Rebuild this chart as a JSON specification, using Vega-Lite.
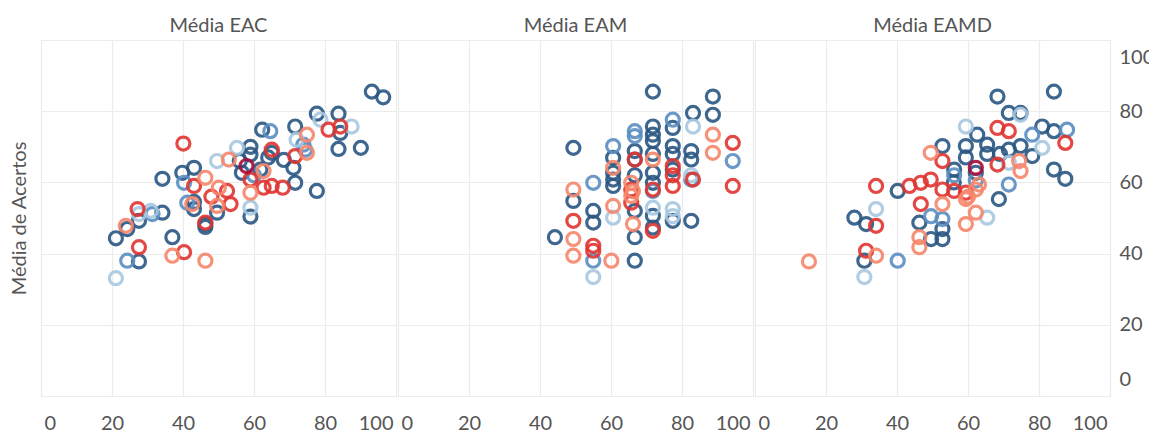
{
  "$schema": "https://vega.github.io/schema/vega-lite/v6.json",
  "padding": {"left": 8, "top": 15, "right": 0, "bottom": 0},
  "background": "white",
  "config": {
    "font": "Lato",
    "view": {"stroke": "#c8c8c8", "strokeWidth": 1},
    "concat": {"spacing": 0},
    "axis": {"grid": true, "gridColor": "#ececec", "gridWidth": 1.2, "domain": false, "ticks": false, "labelFontSize": 20, "labelColor": "#555", "labelFont": "Lato", "titleFont": "Lato", "titleFontWeight": "normal", "titleFontSize": 20, "titleColor": "#555"},
    "title": {"fontSize": 20, "fontWeight": "normal", "color": "#555", "offset": 4, "font": "Lato"}
  },
  "datasets": {
    "pts": [
      {"p":"EAC","x":93.2,"y":85.5,"g":"A"},{"p":"EAC","x":96.4,"y":83.9,"g":"A"},{"p":"EAC","x":77.7,"y":79.3,"g":"A"},{"p":"EAC","x":83.8,"y":79.3,"g":"A"},{"p":"EAC","x":71.6,"y":75.7,"g":"A"},{"p":"EAC","x":62.3,"y":74.8,"g":"A"},{"p":"EAC","x":84.3,"y":73.9,"g":"A"},{"p":"EAC","x":83.8,"y":69.4,"g":"A"},{"p":"EAC","x":90.1,"y":69.7,"g":"A"},{"p":"EAC","x":71.1,"y":64.1,"g":"A"},{"p":"EAC","x":71.6,"y":59.9,"g":"A"},{"p":"EAC","x":77.7,"y":57.6,"g":"A"},{"p":"EAC","x":59,"y":70,"g":"A"},{"p":"EAC","x":59,"y":67.8,"g":"A"},{"p":"EAC","x":65,"y":68.3,"g":"A"},{"p":"EAC","x":68.4,"y":66.3,"g":"A"},{"p":"EAC","x":56.6,"y":62.7,"g":"A"},{"p":"EAC","x":61.8,"y":63.6,"g":"A"},{"p":"EAC","x":34.2,"y":61,"g":"A"},{"p":"EAC","x":43.1,"y":64.1,"g":"A"},{"p":"EAC","x":39.8,"y":62.7,"g":"A"},{"p":"EAC","x":43.1,"y":54.5,"g":"A"},{"p":"EAC","x":43.1,"y":52.5,"g":"A"},{"p":"EAC","x":49.6,"y":51.5,"g":"A"},{"p":"EAC","x":46.3,"y":48.3,"g":"A"},{"p":"EAC","x":59,"y":50.4,"g":"A"},{"p":"EAC","x":34.2,"y":51.5,"g":"A"},{"p":"EAC","x":27.6,"y":49.2,"g":"A"},{"p":"EAC","x":24.3,"y":46.9,"g":"A"},{"p":"EAC","x":21.1,"y":44.3,"g":"A"},{"p":"EAC","x":37,"y":44.6,"g":"A"},{"p":"EAC","x":27.6,"y":37.8,"g":"A"},{"p":"EAC","x":46.3,"y":47.5,"g":"A"},{"p":"EAC","x":64,"y":67,"g":"A"},{"p":"EAC","x":56,"y":66,"g":"A"},
      {"p":"EAC","x":40.3,"y":59.9,"g":"B"},{"p":"EAC","x":64.6,"y":74.4,"g":"B"},{"p":"EAC","x":73.9,"y":70.6,"g":"B"},{"p":"EAC","x":74.4,"y":69.2,"g":"B"},{"p":"EAC","x":24.3,"y":38,"g":"B"},{"p":"EAC","x":41.2,"y":54.3,"g":"B"},{"p":"EAC","x":31.4,"y":51.1,"g":"B"},{"p":"EAC","x":60,"y":62,"g":"B"},
      {"p":"EAC","x":21.1,"y":33.1,"g":"C"},{"p":"EAC","x":49.6,"y":66,"g":"C"},{"p":"EAC","x":55.2,"y":69.7,"g":"C"},{"p":"EAC","x":78.7,"y":77.6,"g":"C"},{"p":"EAC","x":87.5,"y":75.7,"g":"C"},{"p":"EAC","x":59,"y":52.9,"g":"C"},{"p":"EAC","x":27.6,"y":51.1,"g":"C"},{"p":"EAC","x":30.9,"y":52,"g":"C"},{"p":"EAC","x":72,"y":72,"g":"C"},
      {"p":"EAC","x":40.1,"y":70.9,"g":"E"},{"p":"EAC","x":84.3,"y":75.7,"g":"E"},{"p":"EAC","x":81,"y":74.8,"g":"E"},{"p":"EAC","x":65,"y":69.2,"g":"E"},{"p":"EAC","x":71.6,"y":67.4,"g":"E"},{"p":"EAC","x":43.1,"y":59,"g":"E"},{"p":"EAC","x":52.4,"y":57.6,"g":"E"},{"p":"EAC","x":53.4,"y":53.9,"g":"E"},{"p":"EAC","x":62.7,"y":58.5,"g":"E"},{"p":"EAC","x":65,"y":59,"g":"E"},{"p":"EAC","x":68.1,"y":58.5,"g":"E"},{"p":"EAC","x":59,"y":60.8,"g":"E"},{"p":"EAC","x":27.6,"y":41.8,"g":"E"},{"p":"EAC","x":40.3,"y":40.4,"g":"E"},{"p":"EAC","x":46.3,"y":48.7,"g":"E"},{"p":"EAC","x":27.2,"y":52.5,"g":"E"},{"p":"EAC","x":48,"y":56,"g":"E"},
      {"p":"EAC","x":57.9,"y":64.6,"g":"F"},
      {"p":"EAC","x":46.3,"y":38,"g":"D"},{"p":"EAC","x":37,"y":39.4,"g":"D"},{"p":"EAC","x":23.9,"y":47.8,"g":"D"},{"p":"EAC","x":46.3,"y":61.3,"g":"D"},{"p":"EAC","x":52.9,"y":66.4,"g":"D"},{"p":"EAC","x":50.1,"y":58.5,"g":"D"},{"p":"EAC","x":49.6,"y":53.4,"g":"D"},{"p":"EAC","x":59,"y":57.1,"g":"D"},{"p":"EAC","x":74.9,"y":73.4,"g":"D"},{"p":"EAC","x":74.9,"y":68.3,"g":"D"},{"p":"EAC","x":62.7,"y":63.2,"g":"D"},{"p":"EAC","x":42.6,"y":53.9,"g":"D"},

      {"p":"EAM","x":71.8,"y":85.5,"g":"A"},{"p":"EAM","x":88.7,"y":84.1,"g":"A"},{"p":"EAM","x":88.7,"y":79,"g":"A"},{"p":"EAM","x":83.1,"y":79.5,"g":"A"},{"p":"EAM","x":77.4,"y":75.3,"g":"A"},{"p":"EAM","x":71.8,"y":75.7,"g":"A"},{"p":"EAM","x":71.8,"y":73.4,"g":"A"},{"p":"EAM","x":71.8,"y":71.6,"g":"A"},{"p":"EAM","x":77.4,"y":70.2,"g":"A"},{"p":"EAM","x":82.6,"y":68.8,"g":"A"},{"p":"EAM","x":82.6,"y":66.4,"g":"A"},{"p":"EAM","x":66.7,"y":68.8,"g":"A"},{"p":"EAM","x":66.7,"y":66.4,"g":"A"},{"p":"EAM","x":60.6,"y":66.9,"g":"A"},{"p":"EAM","x":60.6,"y":62.7,"g":"A"},{"p":"EAM","x":60.6,"y":60.8,"g":"A"},{"p":"EAM","x":60.6,"y":59,"g":"A"},{"p":"EAM","x":71.8,"y":62.7,"g":"A"},{"p":"EAM","x":71.8,"y":59.9,"g":"A"},{"p":"EAM","x":49.4,"y":69.7,"g":"A"},{"p":"EAM","x":55,"y":52,"g":"A"},{"p":"EAM","x":55,"y":48.7,"g":"A"},{"p":"EAM","x":71.8,"y":50.6,"g":"A"},{"p":"EAM","x":71.8,"y":47.3,"g":"A"},{"p":"EAM","x":77.4,"y":49.2,"g":"A"},{"p":"EAM","x":82.6,"y":49.2,"g":"A"},{"p":"EAM","x":66.7,"y":44.6,"g":"A"},{"p":"EAM","x":44.2,"y":44.6,"g":"A"},{"p":"EAM","x":66.7,"y":38,"g":"A"},{"p":"EAM","x":49.4,"y":54.8,"g":"A"},{"p":"EAM","x":77.4,"y":63.6,"g":"A"},{"p":"EAM","x":66.7,"y":62,"g":"A"},{"p":"EAM","x":71.8,"y":68,"g":"A"},{"p":"EAM","x":77.4,"y":68,"g":"A"},{"p":"EAM","x":66.7,"y":52,"g":"A"},
      {"p":"EAM","x":55,"y":38,"g":"B"},{"p":"EAM","x":55,"y":59.9,"g":"B"},{"p":"EAM","x":60.6,"y":70.2,"g":"B"},{"p":"EAM","x":66.7,"y":74.4,"g":"B"},{"p":"EAM","x":77.4,"y":77.6,"g":"B"},{"p":"EAM","x":94.3,"y":66,"g":"B"},{"p":"EAM","x":82.6,"y":60.8,"g":"B"},{"p":"EAM","x":71.8,"y":57.6,"g":"B"},{"p":"EAM","x":66.7,"y":73,"g":"B"},
      {"p":"EAM","x":55,"y":33.4,"g":"C"},{"p":"EAM","x":60.6,"y":50.1,"g":"C"},{"p":"EAM","x":83.1,"y":75.7,"g":"C"},{"p":"EAM","x":77.4,"y":52.5,"g":"C"},{"p":"EAM","x":71.8,"y":52.9,"g":"C"},{"p":"EAM","x":82.6,"y":62,"g":"C"},{"p":"EAM","x":77.4,"y":50.5,"g":"C"},
      {"p":"EAM","x":94.3,"y":71.1,"g":"E"},{"p":"EAM","x":94.3,"y":59,"g":"E"},{"p":"EAM","x":83.1,"y":60.8,"g":"E"},{"p":"EAM","x":77.4,"y":59,"g":"E"},{"p":"EAM","x":77.4,"y":64.6,"g":"E"},{"p":"EAM","x":71.8,"y":58,"g":"E"},{"p":"EAM","x":66.7,"y":66.4,"g":"E"},{"p":"EAM","x":65.7,"y":58,"g":"E"},{"p":"EAM","x":65.7,"y":54.3,"g":"E"},{"p":"EAM","x":49.4,"y":49.2,"g":"E"},{"p":"EAM","x":55,"y":42.2,"g":"E"},{"p":"EAM","x":55,"y":40.8,"g":"E"},{"p":"EAM","x":71.8,"y":46.4,"g":"E"},{"p":"EAM","x":77.4,"y":62,"g":"E"},
      {"p":"EAM","x":88.7,"y":73.4,"g":"D"},{"p":"EAM","x":88.7,"y":68.3,"g":"D"},{"p":"EAM","x":71.8,"y":66.4,"g":"D"},{"p":"EAM","x":60.6,"y":64.1,"g":"D"},{"p":"EAM","x":60.6,"y":53.4,"g":"D"},{"p":"EAM","x":65.7,"y":59.9,"g":"D"},{"p":"EAM","x":65.7,"y":56.2,"g":"D"},{"p":"EAM","x":49.4,"y":58,"g":"D"},{"p":"EAM","x":49.4,"y":44.1,"g":"D"},{"p":"EAM","x":49.4,"y":39.4,"g":"D"},{"p":"EAM","x":60.1,"y":38,"g":"D"},{"p":"EAM","x":66.2,"y":48.3,"g":"D"},{"p":"EAM","x":66.2,"y":57.5,"g":"D"},

      {"p":"EAMD","x":84.2,"y":85.5,"g":"A"},{"p":"EAMD","x":68.3,"y":84.1,"g":"A"},{"p":"EAMD","x":71.5,"y":79.5,"g":"A"},{"p":"EAMD","x":74.8,"y":79.5,"g":"A"},{"p":"EAMD","x":80.9,"y":75.7,"g":"A"},{"p":"EAMD","x":84.2,"y":74.4,"g":"A"},{"p":"EAMD","x":62.6,"y":73.4,"g":"A"},{"p":"EAMD","x":59.4,"y":70.2,"g":"A"},{"p":"EAMD","x":52.8,"y":70.2,"g":"A"},{"p":"EAMD","x":65.4,"y":70.6,"g":"A"},{"p":"EAMD","x":71.5,"y":69.2,"g":"A"},{"p":"EAMD","x":74.8,"y":70.2,"g":"A"},{"p":"EAMD","x":78.1,"y":67.4,"g":"A"},{"p":"EAMD","x":84.2,"y":63.6,"g":"A"},{"p":"EAMD","x":87.4,"y":61,"g":"A"},{"p":"EAMD","x":56.1,"y":63.6,"g":"A"},{"p":"EAMD","x":62.2,"y":62.7,"g":"A"},{"p":"EAMD","x":40.2,"y":57.6,"g":"A"},{"p":"EAMD","x":28,"y":50.1,"g":"A"},{"p":"EAMD","x":31.3,"y":48.3,"g":"A"},{"p":"EAMD","x":30.8,"y":38,"g":"A"},{"p":"EAMD","x":46.3,"y":48.7,"g":"A"},{"p":"EAMD","x":49.6,"y":44.1,"g":"A"},{"p":"EAMD","x":52.8,"y":44.1,"g":"A"},{"p":"EAMD","x":52.8,"y":46.9,"g":"A"},{"p":"EAMD","x":68.7,"y":55.3,"g":"A"},{"p":"EAMD","x":59.4,"y":67,"g":"A"},{"p":"EAMD","x":65.4,"y":68,"g":"A"},{"p":"EAMD","x":69,"y":68,"g":"A"},{"p":"EAMD","x":56,"y":60,"g":"A"},
      {"p":"EAMD","x":40.2,"y":38,"g":"B"},{"p":"EAMD","x":87.9,"y":74.8,"g":"B"},{"p":"EAMD","x":71.5,"y":59.4,"g":"B"},{"p":"EAMD","x":52.8,"y":49.7,"g":"B"},{"p":"EAMD","x":78.1,"y":73.4,"g":"B"},{"p":"EAMD","x":56.1,"y":62,"g":"B"},{"p":"EAMD","x":62.2,"y":60.5,"g":"B"},{"p":"EAMD","x":49.6,"y":50.5,"g":"B"},
      {"p":"EAMD","x":30.8,"y":33.4,"g":"C"},{"p":"EAMD","x":34.1,"y":52.5,"g":"C"},{"p":"EAMD","x":59.4,"y":75.7,"g":"C"},{"p":"EAMD","x":80.9,"y":69.7,"g":"C"},{"p":"EAMD","x":65.4,"y":50.1,"g":"C"},{"p":"EAMD","x":71.5,"y":65.5,"g":"C"},{"p":"EAMD","x":74.8,"y":79,"g":"C"},
      {"p":"EAMD","x":34.1,"y":59,"g":"E"},{"p":"EAMD","x":34.1,"y":47.8,"g":"E"},{"p":"EAMD","x":31.3,"y":40.8,"g":"E"},{"p":"EAMD","x":43.5,"y":59,"g":"E"},{"p":"EAMD","x":46.7,"y":59.9,"g":"E"},{"p":"EAMD","x":49.5,"y":60.8,"g":"E"},{"p":"EAMD","x":46.7,"y":53.9,"g":"E"},{"p":"EAMD","x":68.3,"y":75.3,"g":"E"},{"p":"EAMD","x":71.5,"y":74.4,"g":"E"},{"p":"EAMD","x":87.4,"y":71.1,"g":"E"},{"p":"EAMD","x":52.8,"y":66,"g":"E"},{"p":"EAMD","x":68.3,"y":65,"g":"E"},{"p":"EAMD","x":56.1,"y":57.6,"g":"E"},{"p":"EAMD","x":59.4,"y":57.1,"g":"E"},{"p":"EAMD","x":52.8,"y":58,"g":"E"},
      {"p":"EAMD","x":62.2,"y":64.1,"g":"F"},
      {"p":"EAMD","x":49.5,"y":68.3,"g":"D"},{"p":"EAMD","x":34.1,"y":39.4,"g":"D"},{"p":"EAMD","x":46.3,"y":44.6,"g":"D"},{"p":"EAMD","x":46.3,"y":41.8,"g":"D"},{"p":"EAMD","x":59.4,"y":48.3,"g":"D"},{"p":"EAMD","x":52.8,"y":53.9,"g":"D"},{"p":"EAMD","x":62.2,"y":51.5,"g":"D"},{"p":"EAMD","x":62.2,"y":58,"g":"D"},{"p":"EAMD","x":63.1,"y":59.4,"g":"D"},{"p":"EAMD","x":74.4,"y":66,"g":"D"},{"p":"EAMD","x":74.8,"y":63.2,"g":"D"},{"p":"EAMD","x":59.4,"y":55.3,"g":"D"},{"p":"EAMD","x":15.2,"y":37.8,"g":"D"},{"p":"EAMD","x":60,"y":56,"g":"D"}
    ]
  },
  "hconcat": [
    {
      "width": 355, "height": 356,
      "title": {"text": "Média EAC"},
      "data": {"name": "pts"},
      "transform": [{"filter": "datum.p === 'EAC'"}],
      "mark": {"type": "point", "shape": "circle", "filled": false, "size": 170, "strokeWidth": 3.2, "opacity": 0.9},
      "encoding": {
        "x": {"field": "x", "type": "quantitative", "scale": {"domain": [0, 100], "nice": false}, "axis": {"values": [0,20,40,60,80,100], "labelFlush": true, "labelFlushOffset": -3, "title": null, "labelPadding": 17}},
        "y": {"field": "y", "type": "quantitative", "scale": {"domain": [0, 100], "nice": false}, "axis": {"orient": "left", "values": [0,20,40,60,80,100], "labels": false, "title": "Média de Acertos", "titlePadding": 12}},
        "color": {"field": "g", "type": "nominal", "legend": null, "scale": {"domain": ["A","B","C","D","E","F"], "range": ["#2a5783","#5b8fc2","#a8c8e1","#f7876c","#e03531","#a90c38"]}}
      }
    },
    {
      "width": 355, "height": 356,
      "title": {"text": "Média EAM"},
      "data": {"name": "pts"},
      "transform": [{"filter": "datum.p === 'EAM'"}],
      "mark": {"type": "point", "shape": "circle", "filled": false, "size": 170, "strokeWidth": 3.2, "opacity": 0.9},
      "encoding": {
        "x": {"field": "x", "type": "quantitative", "scale": {"domain": [0, 100], "nice": false}, "axis": {"values": [0,20,40,60,80,100], "labelFlush": true, "labelFlushOffset": -3, "title": null, "labelPadding": 17}},
        "y": {"field": "y", "type": "quantitative", "scale": {"domain": [0, 100], "nice": false}, "axis": {"values": [0,20,40,60,80,100], "labels": false, "title": null}},
        "color": {"field": "g", "type": "nominal", "legend": null, "scale": {"domain": ["A","B","C","D","E","F"], "range": ["#2a5783","#5b8fc2","#a8c8e1","#f7876c","#e03531","#a90c38"]}}
      }
    },
    {
      "width": 355, "height": 356,
      "title": {"text": "Média EAMD"},
      "data": {"name": "pts"},
      "transform": [{"filter": "datum.p === 'EAMD'"}],
      "mark": {"type": "point", "shape": "circle", "filled": false, "size": 170, "strokeWidth": 3.2, "opacity": 0.9},
      "encoding": {
        "x": {"field": "x", "type": "quantitative", "scale": {"domain": [0, 100], "nice": false}, "axis": {"values": [0,20,40,60,80,100], "labelFlush": true, "labelFlushOffset": -3, "title": null, "labelPadding": 17}},
        "y": {"field": "y", "type": "quantitative", "scale": {"domain": [0, 100], "nice": false}, "axis": {"orient": "right", "values": [0,20,40,60,80,100], "labelFlush": true, "labelFlushOffset": -7, "title": null, "labelPadding": 9}},
        "color": {"field": "g", "type": "nominal", "legend": null, "scale": {"domain": ["A","B","C","D","E","F"], "range": ["#2a5783","#5b8fc2","#a8c8e1","#f7876c","#e03531","#a90c38"]}}
      }
    }
  ]
}
